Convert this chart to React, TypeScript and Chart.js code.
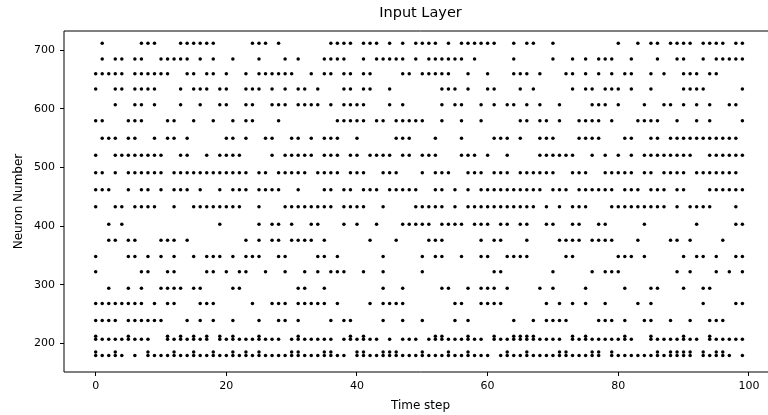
import React, { useEffect, useRef } from 'react';
import { Chart, registerables } from 'chart.js';

Chart.register(...registerables);

// Tick labels
const timeTicks = [0, 20, 40, 60, 80, 100];
const neuronTicks = [200, 300, 400, 500, 600, 700];

// Spike times (time step) for each neuron row, read from the raster
const n712 = [1, 7, 8, 9, 13, 14, 15, 16, 17, 18, 24, 25, 26, 28, 36, 37, 38, 39, 41, 42, 43, 45, 47, 49, 50, 51, 52, 54, 56, 57, 58, 59, 60, 61, 64, 66, 67, 70, 80, 83, 85, 86, 88, 89, 90, 91, 93, 94, 95, 96, 98, 99];
const n685 = [1, 3, 4, 6, 7, 10, 11, 12, 13, 14, 16, 18, 21, 25, 29, 31, 35, 36, 37, 38, 41, 43, 44, 45, 46, 47, 49, 51, 52, 53, 54, 55, 56, 58, 64, 70, 73, 75, 77, 78, 79, 82, 86, 89, 90, 93, 95, 96, 97, 98, 99];
const n660 = [0, 1, 2, 3, 4, 6, 7, 8, 9, 10, 11, 14, 15, 17, 18, 20, 23, 25, 26, 27, 28, 29, 30, 33, 35, 36, 38, 39, 41, 42, 47, 48, 50, 51, 52, 53, 54, 57, 60, 64, 65, 66, 68, 72, 73, 75, 77, 79, 81, 82, 85, 87, 90, 91, 92, 94, 95];
const n634 = [0, 3, 4, 6, 7, 8, 9, 13, 15, 16, 17, 19, 20, 23, 24, 25, 27, 29, 31, 32, 34, 38, 39, 41, 42, 45, 53, 54, 55, 57, 60, 61, 65, 67, 73, 75, 76, 78, 79, 80, 82, 85, 90, 91, 92, 93, 99];
const n607 = [3, 6, 7, 9, 13, 16, 19, 20, 23, 24, 27, 28, 29, 31, 32, 33, 34, 36, 38, 39, 40, 41, 45, 47, 53, 55, 56, 59, 61, 63, 64, 66, 68, 71, 76, 77, 78, 80, 84, 87, 88, 90, 92, 94, 97, 98];
const n580 = [0, 1, 5, 6, 7, 11, 12, 15, 18, 21, 23, 24, 28, 37, 38, 39, 40, 41, 43, 44, 46, 47, 48, 49, 50, 53, 56, 59, 65, 66, 68, 69, 71, 74, 75, 76, 77, 79, 83, 84, 85, 86, 89, 92, 94, 99];
const n550 = [1, 2, 3, 5, 6, 9, 11, 12, 14, 20, 21, 23, 26, 27, 30, 31, 33, 35, 36, 37, 40, 46, 47, 48, 52, 56, 61, 62, 63, 65, 68, 69, 70, 74, 75, 76, 77, 81, 82, 85, 86, 88, 89, 90, 91, 92, 93, 94, 95, 96, 97, 98];
const n521 = [0, 3, 4, 5, 6, 7, 8, 9, 10, 13, 14, 17, 19, 20, 21, 22, 27, 29, 30, 31, 32, 33, 35, 36, 37, 39, 40, 42, 43, 44, 45, 47, 48, 50, 51, 52, 56, 57, 58, 60, 63, 68, 69, 70, 71, 72, 73, 76, 78, 80, 82, 84, 85, 86, 87, 88, 89, 90, 91, 94, 95, 96, 97, 98, 99];
const n491 = [0, 1, 3, 5, 6, 7, 8, 9, 10, 12, 13, 14, 15, 16, 17, 18, 19, 20, 21, 22, 23, 25, 26, 28, 29, 30, 31, 32, 34, 35, 36, 37, 39, 40, 41, 44, 45, 46, 50, 52, 53, 54, 57, 58, 59, 61, 62, 63, 65, 66, 67, 68, 69, 70, 73, 74, 75, 78, 79, 80, 81, 82, 84, 85, 87, 88, 89, 90, 92, 93, 94, 95, 96, 97, 98];
const n462 = [0, 1, 2, 5, 7, 8, 10, 12, 13, 14, 16, 19, 21, 22, 23, 25, 26, 27, 28, 31, 35, 36, 38, 39, 41, 42, 43, 45, 46, 47, 48, 49, 52, 53, 55, 57, 59, 60, 61, 62, 63, 64, 65, 66, 67, 68, 70, 71, 72, 74, 75, 76, 77, 78, 79, 81, 82, 83, 85, 86, 87, 89, 90, 94, 95, 96, 97, 98, 99];
const n433 = [0, 3, 4, 6, 7, 8, 9, 12, 15, 16, 17, 18, 19, 20, 21, 22, 25, 29, 30, 31, 32, 33, 34, 35, 36, 38, 39, 40, 41, 44, 49, 50, 51, 52, 53, 55, 57, 58, 59, 60, 61, 62, 63, 64, 65, 66, 67, 69, 71, 73, 74, 75, 79, 80, 81, 82, 83, 84, 85, 86, 87, 89, 91, 92, 93, 94, 98];
const n403 = [2, 4, 19, 25, 27, 28, 30, 33, 34, 38, 40, 43, 47, 48, 49, 50, 51, 53, 54, 55, 56, 58, 59, 60, 62, 63, 65, 66, 69, 70, 73, 74, 77, 78, 84, 92, 98, 99];
const n376 = [2, 3, 5, 6, 10, 11, 12, 14, 23, 25, 27, 28, 30, 31, 32, 33, 35, 42, 46, 51, 52, 53, 59, 61, 62, 66, 71, 72, 73, 74, 76, 77, 78, 79, 83, 88, 89, 91, 96];
const n348 = [0, 5, 6, 8, 10, 12, 15, 17, 18, 19, 21, 23, 24, 25, 28, 29, 34, 35, 37, 44, 50, 52, 53, 56, 59, 60, 63, 64, 65, 66, 72, 73, 80, 81, 82, 84, 90, 92, 93, 95, 98, 99];
const n322 = [0, 7, 8, 11, 12, 17, 18, 20, 22, 23, 26, 29, 32, 34, 36, 37, 38, 41, 44, 50, 61, 62, 70, 76, 78, 79, 80, 89, 91, 95, 97, 99];
const n294 = [2, 5, 7, 10, 11, 12, 13, 15, 16, 21, 22, 31, 32, 35, 44, 47, 53, 54, 57, 59, 60, 61, 63, 68, 70, 75, 81, 85, 86, 90, 93, 94];
const n268 = [0, 1, 2, 3, 4, 5, 6, 7, 9, 11, 12, 16, 17, 18, 24, 27, 28, 29, 31, 32, 33, 34, 35, 37, 42, 44, 45, 46, 47, 55, 56, 59, 60, 61, 62, 69, 71, 73, 75, 78, 83, 85, 93, 98, 99];
const n239 = [0, 1, 2, 3, 5, 6, 7, 8, 9, 10, 14, 16, 18, 21, 25, 28, 29, 31, 36, 38, 39, 44, 47, 50, 55, 57, 64, 67, 69, 70, 71, 72, 77, 78, 79, 81, 84, 85, 88, 91, 94, 95, 96];
const n207 = [0, 1, 2, 3, 4, 5, 6, 7, 8, 11, 12, 13, 14, 15, 16, 17, 19, 20, 21, 22, 23, 24, 25, 26, 27, 28, 30, 31, 32, 33, 34, 35, 36, 38, 39, 40, 41, 42, 43, 45, 47, 48, 49, 51, 52, 53, 54, 55, 56, 57, 58, 59, 61, 62, 63, 64, 65, 66, 67, 68, 69, 70, 71, 73, 74, 75, 76, 77, 78, 79, 80, 81, 82, 85, 86, 87, 88, 89, 90, 91, 92, 94, 95, 96, 97, 98, 99];
const n212 = [0, 5, 11, 13, 15, 17, 19, 21, 25, 31, 39, 41, 52, 53, 57, 61, 64, 65, 66, 67, 73, 75, 81, 85, 90, 94];
const n179 = [0, 1, 2, 3, 4, 6, 8, 9, 10, 11, 12, 13, 14, 15, 16, 17, 18, 19, 20, 21, 22, 23, 24, 25, 26, 27, 28, 29, 30, 31, 32, 33, 34, 35, 36, 37, 38, 40, 41, 42, 43, 44, 45, 46, 47, 48, 49, 50, 51, 52, 53, 54, 55, 56, 57, 58, 59, 60, 62, 63, 64, 65, 66, 67, 68, 69, 70, 71, 72, 73, 74, 75, 76, 77, 79, 80, 81, 82, 83, 84, 85, 86, 87, 88, 89, 90, 91, 93, 94, 95, 96, 97, 99];
const n185 = [0, 3, 8, 12, 15, 18, 21, 23, 25, 30, 31, 35, 36, 40, 41, 44, 45, 46, 50, 54, 57, 63, 66, 71, 72, 76, 77, 79, 86, 88, 89, 90, 91, 93, 95, 96];

const neuronRows = [712, 685, 660, 634, 607, 580, 550, 521, 491, 462, 433, 403, 376, 348, 322, 294, 268, 239, 207, 212, 179, 185];
const rowSpikes = [n712, n685, n660, n634, n607, n580, n550, n521, n491, n462, n433, n403, n376, n348, n322, n294, n268, n239, n207, n212, n179, n185];

const FONT = "'DejaVu Sans', sans-serif";

// Frame: left, top and bottom spines (the right spine lies beyond the visible window)
const framePlugin = {
  id: 'frame',
  afterDraw(chart: any) {
    const { ctx, chartArea: a } = chart;
    ctx.save();
    ctx.strokeStyle = '#000';
    ctx.lineWidth = 1;
    ctx.beginPath();
    ctx.moveTo(a.right, a.top);
    ctx.lineTo(a.left, a.top);
    ctx.lineTo(a.left, a.bottom);
    ctx.lineTo(a.right, a.bottom);
    ctx.stroke();
    ctx.restore();
  },
};

export default function App() {
  const ref = useRef<HTMLCanvasElement>(null);

  useEffect(() => {
    document.body.style.margin = '0';
    document.body.style.overflow = 'hidden';
    const points: { x: number; y: number }[] = [];
    neuronRows.forEach((n, i) => {
      rowSpikes[i].forEach((t) => points.push({ x: t, y: n }));
    });

    const chart = new Chart(ref.current as HTMLCanvasElement, {
      type: 'scatter',
      data: {
        datasets: [
          {
            data: points,
            backgroundColor: '#000',
            borderWidth: 0,
            pointRadius: 1.75,
            pointHoverRadius: 1.75,
          },
        ],
      },
      options: {
        responsive: false,
        animation: false,
        devicePixelRatio: 1,
        layout: { padding: { left: 0, right: 13, top: 0, bottom: 0 } },
        plugins: {
          legend: { display: false },
          tooltip: { enabled: false },
          title: {
            display: true,
            text: 'Input Layer',
            fullSize: false,
            color: '#000',
            font: { family: FONT, size: 14.5, weight: 'normal' },
            padding: { top: 5, bottom: 8.6 },
          },
        },
        scales: {
          x: {
            type: 'linear',
            min: -4.85,
            max: 104.3,
            afterBuildTicks: (s: any) => {
              s.ticks = timeTicks.map((v) => ({ value: v }));
            },
            afterFit: (s: any) => {
              s.height = 43;
            },
            grid: { drawOnChartArea: false, tickLength: 4, color: '#000' },
            border: { display: false },
            ticks: { color: '#000', font: { family: FONT, size: 11 }, padding: 4, maxRotation: 0 },
            title: {
              display: true,
              text: 'Time step',
              color: '#000',
              font: { family: FONT, size: 12 },
              padding: { top: 0, bottom: 2 },
            },
          },
          y: {
            type: 'linear',
            min: 151,
            max: 733,
            afterBuildTicks: (s: any) => {
              s.ticks = neuronTicks.map((v) => ({ value: v }));
            },
            afterFit: (s: any) => {
              s.width = 64;
            },
            grid: { drawOnChartArea: false, tickLength: 4, color: '#000' },
            border: { display: false },
            ticks: { color: '#000', font: { family: FONT, size: 11 }, padding: 5 },
            title: {
              display: true,
              text: 'Neuron Number',
              color: '#000',
              font: { family: FONT, size: 12 },
              padding: { top: 11.5, bottom: 0 },
            },
          },
        },
      },
      plugins: [framePlugin],
    });
    return () => chart.destroy();
  }, []);

  return (
    <div style={{ width: 790, height: 415 }}>
      <canvas ref={ref} width={790} height={415} style={{ display: 'block' }} />
    </div>
  );
}
